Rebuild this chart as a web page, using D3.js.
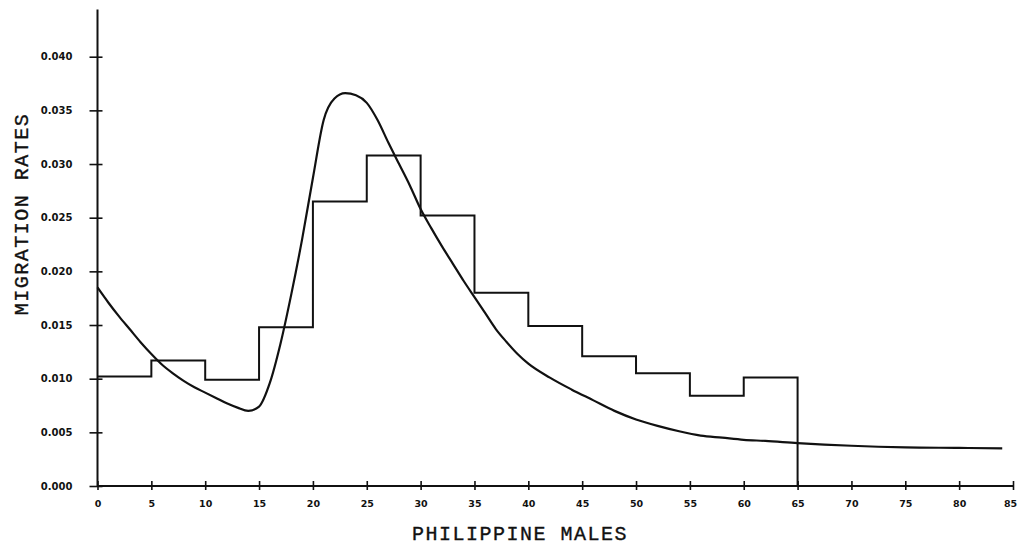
<!DOCTYPE html>
<html>
<head>
<meta charset="utf-8">
<script src="https://cdn.jsdelivr.net/npm/d3@7"></script>
<style>
  html, body { margin: 0; padding: 0; background: #fff; }
  svg { display: block; }
  .tick text { font-family: "DejaVu Sans", sans-serif; font-weight: bold; fill: #111; }
  .title { font-family: "Liberation Mono", "Courier New", monospace; font-size: 20px; fill: #111; stroke: #111; stroke-width: 0.35px; letter-spacing: 1.5px; }
</style>
</head>
<body>
<script>
// Observed age-group migration rates (5-year groups starting at these ages)
const groupStarts = [0, 5, 10, 15, 20, 25, 30, 35, 40, 45, 50, 55, 60];
const groupWidth = 5;
const observedRates = [0.0102, 0.0117, 0.0099, 0.0148, 0.0265, 0.0308, 0.0252, 0.0180, 0.0149, 0.0121, 0.0105, 0.0084, 0.0101];

// Fitted model schedule by single age
const modelAges = [0, 1, 2, 3, 4, 5, 6, 7, 8, 9, 10, 11, 12, 13, 14, 15, 16, 17, 18, 19, 20,
  21, 22, 23, 24, 25, 26, 27, 28, 29, 30, 31, 32, 33, 34, 35, 36, 37, 38, 39, 40,
  42, 44, 46, 48, 50, 52, 54, 56, 58, 60, 62, 65, 70, 75, 80, 84];
const modelRates = [0.0185, 0.0171, 0.0158, 0.0146, 0.0134, 0.0123, 0.0113, 0.0105, 0.0098, 0.0092, 0.0087,
  0.0082, 0.0077, 0.0073, 0.0070, 0.0074, 0.0096, 0.0133, 0.0179, 0.0230, 0.0287,
  0.0341, 0.0361, 0.0366, 0.0364, 0.0357, 0.0341, 0.0320, 0.0300, 0.0280, 0.0258,
  0.0240, 0.0223, 0.0207, 0.0191, 0.0176, 0.0161, 0.0146, 0.0134, 0.0123, 0.0114,
  0.0101, 0.0090, 0.0080, 0.0070, 0.0062, 0.0056, 0.0051, 0.0047, 0.0045, 0.0043, 0.0042,
  0.0040, 0.00375, 0.0036, 0.00355, 0.0035];

// Axis ticks and labels
const xTicks = [0, 5, 10, 15, 20, 25, 30, 35, 40, 45, 50, 55, 60, 65, 70, 75, 80, 85];
const yTicks = [0, 0.005, 0.010, 0.015, 0.020, 0.025, 0.030, 0.035, 0.040];
const yAxisTop = 0.0444;
const xTitle = "PHILIPPINE MALES";
const yTitle = "MIGRATION RATES";

const W = 1018, H = 547;
const svg = d3.select("body").append("svg").attr("width", W).attr("height", H);

const x = d3.scaleLinear().domain([0, 85]).range([97.5, 1013]);
const y = d3.scaleLinear().domain([0, 0.040]).range([486, 56.7]);

const ink = "#111";

// X axis
const xAxis = svg.append("g")
  .attr("transform", `translate(0,${y(0)})`)
  .call(d3.axisBottom(x).tickValues(xTicks).tickFormat(d3.format("d")).tickSizeOuter(0));
xAxis.select(".domain").remove();
xAxis.selectAll(".tick line").attr("y1", -5).attr("y2", 4).attr("stroke", ink).attr("stroke-width", 1.6);
xAxis.selectAll(".tick text")
  .attr("y", 14)
  .attr("font-size", 9.5)
  .attr("dx", d => d === 85 ? -3 : 0);
xAxis.append("line")
  .attr("x1", x(0)).attr("x2", x(85))
  .attr("stroke", ink).attr("stroke-width", 2);

// Y axis
const yAxis = svg.append("g")
  .attr("transform", `translate(${x(0)},0)`)
  .call(d3.axisLeft(y).tickValues(yTicks).tickFormat(d3.format(".3f")).tickSizeOuter(0));
yAxis.select(".domain").remove();
yAxis.selectAll(".tick line").attr("x1", -8).attr("x2", 5).attr("stroke", ink).attr("stroke-width", 1.6);
yAxis.selectAll(".tick text").attr("x", -25).attr("font-size", 10);
yAxis.append("line")
  .attr("y1", y(0)).attr("y2", y(yAxisTop))
  .attr("stroke", ink).attr("stroke-width", 2);

// Observed rates as a step outline
const stepPts = [];
groupStarts.forEach((a, i) => {
  stepPts.push([a, observedRates[i]]);
  stepPts.push([a + groupWidth, observedRates[i]]);
});
stepPts.push([groupStarts[groupStarts.length - 1] + groupWidth, 0]);
svg.append("path")
  .datum(stepPts)
  .attr("fill", "none")
  .attr("stroke", ink)
  .attr("stroke-width", 2)
  .attr("stroke-linejoin", "miter")
  .attr("d", d3.line().x(d => x(d[0])).y(d => y(d[1])));

// Fitted model curve
svg.append("path")
  .datum(modelAges.map((a, i) => [a, modelRates[i]]))
  .attr("fill", "none")
  .attr("stroke", ink)
  .attr("stroke-width", 2.2)
  .attr("d", d3.line().curve(d3.curveMonotoneX).x(d => x(d[0])).y(d => y(d[1])));

// Titles
svg.append("text").attr("class", "title")
  .attr("x", 520).attr("y", 540)
  .attr("text-anchor", "middle")
  .text(xTitle);
svg.append("text").attr("class", "title")
  .attr("transform", "translate(28,214) rotate(-90)")
  .attr("text-anchor", "middle")
  .text(yTitle);
</script>
</body>
</html>
